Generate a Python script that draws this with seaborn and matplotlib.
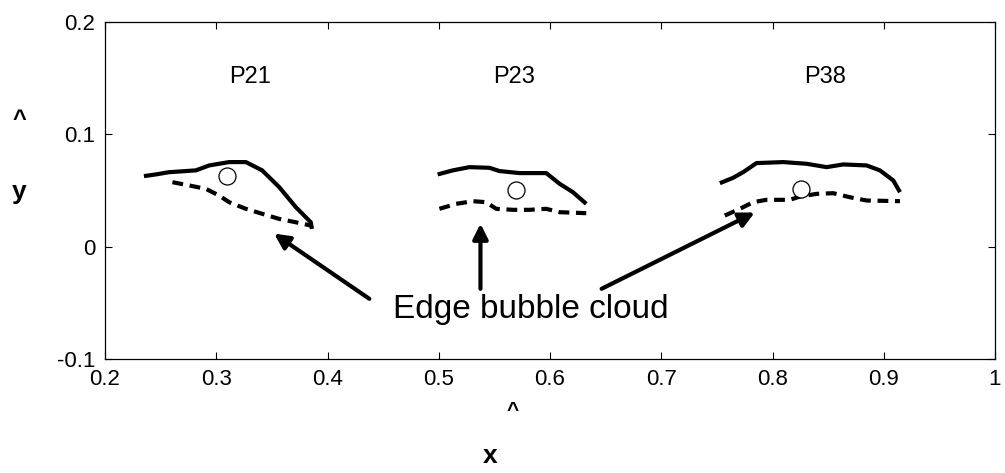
import numpy as np
import pandas as pd
import matplotlib
matplotlib.use("Agg")
import matplotlib.pyplot as plt
import seaborn as sns

# ---- data ----
p21_solid_x = [0.235, 0.2456, 0.2576, 0.2816, 0.2936, 0.3116, 0.3266, 0.3413, 0.3566, 0.3716, 0.385, 0.386]
p21_solid_y = [0.0628, 0.0643, 0.0663, 0.0679, 0.0723, 0.0753, 0.0753, 0.0679, 0.0530, 0.0351, 0.0217, 0.0158]
p21_dash_x = [0.2606, 0.2756, 0.2906, 0.3026, 0.3116, 0.3266, 0.3415, 0.3566, 0.3716, 0.385]
p21_dash_y = [0.0574, 0.0545, 0.0515, 0.0455, 0.0396, 0.0337, 0.0292, 0.0247, 0.0217, 0.0188]

p23_solid_x = [0.499, 0.5126, 0.5276, 0.5456, 0.5546, 0.5726, 0.5966, 0.6086, 0.6206, 0.6326]
p23_solid_y = [0.0643, 0.0679, 0.0708, 0.0702, 0.0673, 0.0655, 0.0655, 0.0560, 0.0485, 0.0381]
p23_dash_x = [0.5006, 0.5156, 0.5306, 0.5426, 0.5516, 0.5666, 0.5816, 0.5966, 0.6086, 0.6326]
p23_dash_y = [0.0337, 0.0381, 0.0405, 0.0396, 0.0337, 0.0328, 0.0328, 0.0337, 0.0307, 0.0298]

p38_solid_x = [0.7527, 0.7646, 0.7736, 0.7856, 0.8096, 0.8306, 0.8486, 0.8636, 0.8846, 0.8966, 0.9086, 0.9146]
p38_solid_y = [0.0565, 0.0613, 0.0663, 0.0744, 0.0753, 0.0738, 0.0708, 0.0732, 0.0723, 0.0679, 0.0589, 0.0485]
p38_dash_x = [0.7571, 0.7707, 0.7826, 0.7946, 0.8156, 0.8246, 0.8396, 0.8546, 0.8696, 0.8846, 0.9146]
p38_dash_y = [0.0277, 0.0337, 0.0396, 0.0417, 0.0417, 0.0446, 0.0470, 0.0476, 0.0440, 0.0411, 0.0405]

centers_x = [0.310, 0.5696, 0.8253]
centers_y = [0.0625, 0.0506, 0.0515]

labels = ["P21", "P23", "P38"]
label_x = [0.3305, 0.568, 0.847]
label_y = [0.1513, 0.1513, 0.1513]

annot_text = "Edge bubble cloud"
annot_pos = (0.5825, -0.0634)
arrow_tails = [(0.4376, -0.0464), (0.5375, -0.0375), (0.6464, -0.0375)]
arrow_heads = [(0.352, 0.0116), (0.5375, 0.0205), (0.784, 0.0304)]

x_ticks = [0.2, 0.3, 0.4, 0.5, 0.6, 0.7, 0.8, 0.9, 1.0]
x_ticklabels = ["0.2", "0.3", "0.4", "0.5", "0.6", "0.7", "0.8", "0.9", "1"]
y_ticks = [-0.1, 0.0, 0.1, 0.2]
y_ticklabels = ["-0.1", "0", "0.1", "0.2"]

# ---- style ----
sns.set_style("ticks")
plt.rcParams['font.family'] = ['Liberation Sans', 'DejaVu Sans']
plt.rcParams['text.color'] = 'black'

fig = plt.figure(figsize=(10.05, 4.73), dpi=100)
ax = fig.add_axes([105/1005, 1-359/473, (995-105)/1005, (359-22)/473])

curves = [
    (p21_solid_x, p21_solid_y, "-"), (p21_dash_x, p21_dash_y, "--"),
    (p23_solid_x, p23_solid_y, "-"), (p23_dash_x, p23_dash_y, "--"),
    (p38_solid_x, p38_solid_y, "-"), (p38_dash_x, p38_dash_y, "--"),
]
for xs, ys, ls in curves:
    df = pd.DataFrame({"x": xs, "y": ys})
    sns.lineplot(data=df, x="x", y="y", sort=False, estimator=None,
                 color="black", linewidth=3.0, ax=ax)
    l = ax.lines[-1]
    if ls == "--":
        l.set_dashes([2.6, 1.6])
    l.set_solid_capstyle("butt")

sns.scatterplot(x=centers_x, y=centers_y, s=150, facecolor="white",
                edgecolor="black", linewidth=0.9, ax=ax, zorder=5)

for t, lx, ly in zip(labels, label_x, label_y):
    ax.text(lx, ly, t, ha="center", va="center", fontsize=17, color="black")

ax.text(annot_pos[0], annot_pos[1], annot_text, ha="center", va="baseline",
        fontsize=24, color="black")
for (tx, ty), (hx, hy) in zip(arrow_tails, arrow_heads):
    ax.annotate("", xy=(hx, hy), xytext=(tx, ty),
                arrowprops=dict(arrowstyle="-|>,head_length=0.9,head_width=0.45",
                                color="black", lw=3, shrinkA=0, shrinkB=0))

ax.set_xlim(0.2, 1.0)
ax.set_ylim(-0.1, 0.2)
ax.set_xticks(x_ticks)
ax.set_xticklabels(x_ticklabels)
ax.set_yticks(y_ticks)
ax.set_yticklabels(y_ticklabels)
ax.tick_params(direction="in", length=5, width=0.8, labelsize=16, pad=7,
               top=True, right=True, colors="black", labelcolor="black")
for sp in ax.spines.values():
    sp.set_visible(True)
    sp.set_linewidth(0.9)
    sp.set_color("black")
ax.set_xlabel("")
ax.set_ylabel("")

# axis labels (hat symbols printed separately as in the reference)
fig.text(19/1005, 1-120/473, "^", ha="center", va="center", fontsize=17,
         fontweight="bold", color="black")
fig.text(19/1005, 1-192/473, "y", ha="center", va="center", fontsize=19,
         fontweight="bold", color="black")
fig.text(513/1005, 1-410/473, "^", ha="center", va="center", fontsize=15,
         fontweight="bold", color="black")
fig.text(490/1005, 1-456/473, "x", ha="center", va="center", fontsize=19,
         fontweight="bold", color="black")

fig.savefig("out.png", dpi=100)
